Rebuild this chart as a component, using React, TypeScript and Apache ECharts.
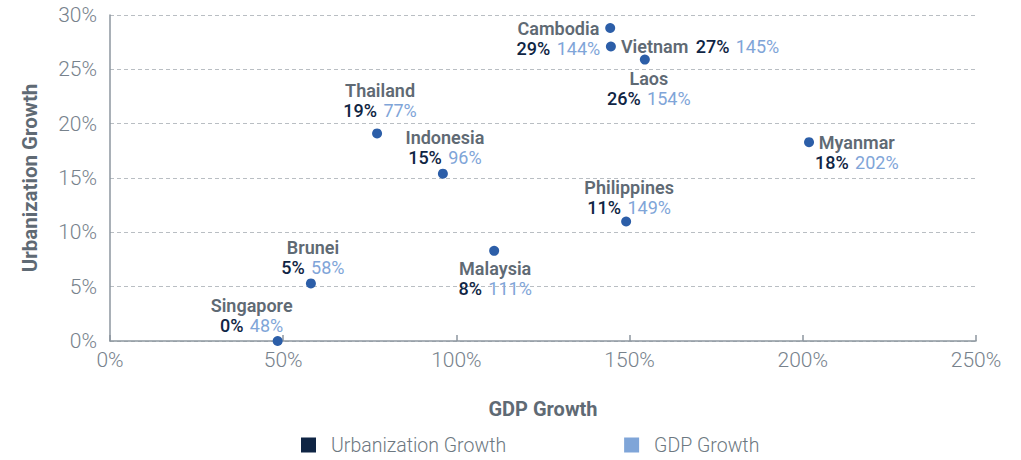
import React, { useEffect, useRef } from "react";
import * as echarts from "echarts";

const countries = ["Singapore", "Brunei", "Thailand", "Indonesia", "Malaysia", "Philippines", "Cambodia", "Vietnam", "Laos", "Myanmar"];
const gdpGrowth = [48.4, 58.0, 77.1, 96.1, 110.9, 149.0, 144.4, 144.6, 154.4, 201.8];
const urbanGrowth = [0.0, 5.3, 19.1, 15.4, 8.3, 11.0, 28.8, 27.1, 25.9, 18.3];
const xTicks = [0, 50, 100, 150, 200, 250];
const yTicks = [0, 5, 10, 15, 20, 25, 30];
const legendNames = ["Urbanization Growth", "GDP Growth"];

const FONT = "'Roboto', 'Noto Sans', sans-serif";
const NAVY = "#0f2544";
const LIGHT = "#7fa5d8";
const GREY = "#5f6a74";
const DOT = "#2c5ea8";

type Place = { position: string; dx: number; dy: number; inline?: boolean };
const placement: Record<string, Place> = {
  Singapore: { position: "top", dx: -26, dy: 4 },
  Brunei: { position: "top", dx: 2, dy: 4 },
  Thailand: { position: "top", dx: 3, dy: -3 },
  Indonesia: { position: "top", dx: 2, dy: 4 },
  Malaysia: { position: "bottom", dx: 1, dy: -2 },
  Philippines: { position: "top", dx: 3, dy: 6 },
  Cambodia: { position: "left", dx: 0, dy: 10 },
  Vietnam: { position: "right", dx: 0, dy: 0, inline: true },
  Laos: { position: "bottom", dx: 4, dy: -1 },
  Myanmar: { position: "right", dx: -4, dy: 10 },
};

export default function App() {
  const ref = useRef<HTMLDivElement>(null);
  useEffect(() => {
    if (!ref.current) return;
    const chart = echarts.init(ref.current, null, { renderer: "svg" });
    const data = countries.map((c, i) => {
      const p = placement[c];
      const u = Math.round(urbanGrowth[i]);
      const g = Math.round(gdpGrowth[i]);
      const text = p.inline
        ? `{ni|${c}} {u|${u}%} {g|${g}%}`
        : `{n|${c}}\n{u|${u}%} {g|${g}%}`;
      return {
        name: c,
        value: [gdpGrowth[i], urbanGrowth[i]],
        label: {
          show: true,
          position: p.position,
          distance: 5,
          formatter: text,
          align: p.position === "left" ? "right" : p.position === "right" ? "left" : "center",
        },
      };
    });
    chart.setOption({
      animation: false,
      grid: { left: 110, right: 45, top: 15, bottom: 119, containLabel: false },
      legend: {
        data: legendNames.map((n) => ({ name: n, icon: "rect" })),
        bottom: 0,
        left: 296,
        itemWidth: 15,
        itemHeight: 15,
        itemGap: 118,
        selectedMode: false,
        textStyle: { fontFamily: FONT, fontSize: 19.5, fontWeight: 300, color: "#6d7881", padding: [0, 0, 0, 10] },
      },
      xAxis: {
        type: "value",
        min: xTicks[0],
        max: xTicks[xTicks.length - 1],
        interval: 50,
        name: "GDP Growth",
        nameLocation: "middle",
        nameGap: 58,
        nameTextStyle: { fontFamily: FONT, fontSize: 20, fontWeight: "bold", color: GREY },
        axisLine: { show: true, lineStyle: { color: "#8c969f", width: 1.5 } },
        axisTick: { show: true, inside: true, length: 6, lineStyle: { color: "#8c969f", width: 1.5 } },
        axisLabel: { fontFamily: FONT, fontSize: 21, fontWeight: 300, color: "#77828c", margin: 8, formatter: "{value}%" },
        splitLine: { show: false },
      },
      yAxis: {
        type: "value",
        min: yTicks[0],
        max: yTicks[yTicks.length - 1],
        interval: 5,
        name: "Urbanization Growth",
        nameLocation: "middle",
        nameGap: 70,
        nameTextStyle: { fontFamily: FONT, fontSize: 20.5, fontWeight: "bold", color: GREY },
        axisLine: { show: true, lineStyle: { color: "#8c969f", width: 1.5 } },
        axisTick: { show: false },
        axisLabel: { fontFamily: FONT, fontSize: 21, fontWeight: 300, color: "#77828c", margin: 13, formatter: "{value}%" },
        splitLine: { show: true, lineStyle: { color: "#b9bec3", type: [4, 3], width: 1 } },
      },
      series: [
        {
          type: "scatter",
          name: "points",
          symbolSize: 10,
          itemStyle: { color: DOT, opacity: 1 },
          label: {
            rich: {
              n: { fontFamily: FONT, fontSize: 18, fontWeight: 600, color: GREY, lineHeight: 20, align: "center" },
              ni: { fontFamily: FONT, fontSize: 18, fontWeight: 600, color: GREY, lineHeight: 20, padding: [0, 4, 0, 0] },
              u: { fontFamily: FONT, fontSize: 18, fontWeight: 500, color: NAVY, lineHeight: 20 },
              g: { fontFamily: FONT, fontSize: 18, fontWeight: 400, color: LIGHT, lineHeight: 20, padding: [0, 0, 0, 3] },
            },
          },
          data,
          labelLayout: (params: any) => {
            const p = placement[countries[params.dataIndex]];
            return { dx: p.dx, dy: p.dy, hideOverlap: false };
          },
          z: 3,
        },
        { type: "scatter", name: legendNames[0], data: [], itemStyle: { color: NAVY, opacity: 1 } },
        { type: "scatter", name: legendNames[1], data: [], itemStyle: { color: LIGHT, opacity: 1 } },
      ],
    });
    return () => chart.dispose();
  }, []);
  return <div ref={ref} style={{ width: 1021, height: 460, position: "absolute", left: 0, top: 0 }} />;
}
